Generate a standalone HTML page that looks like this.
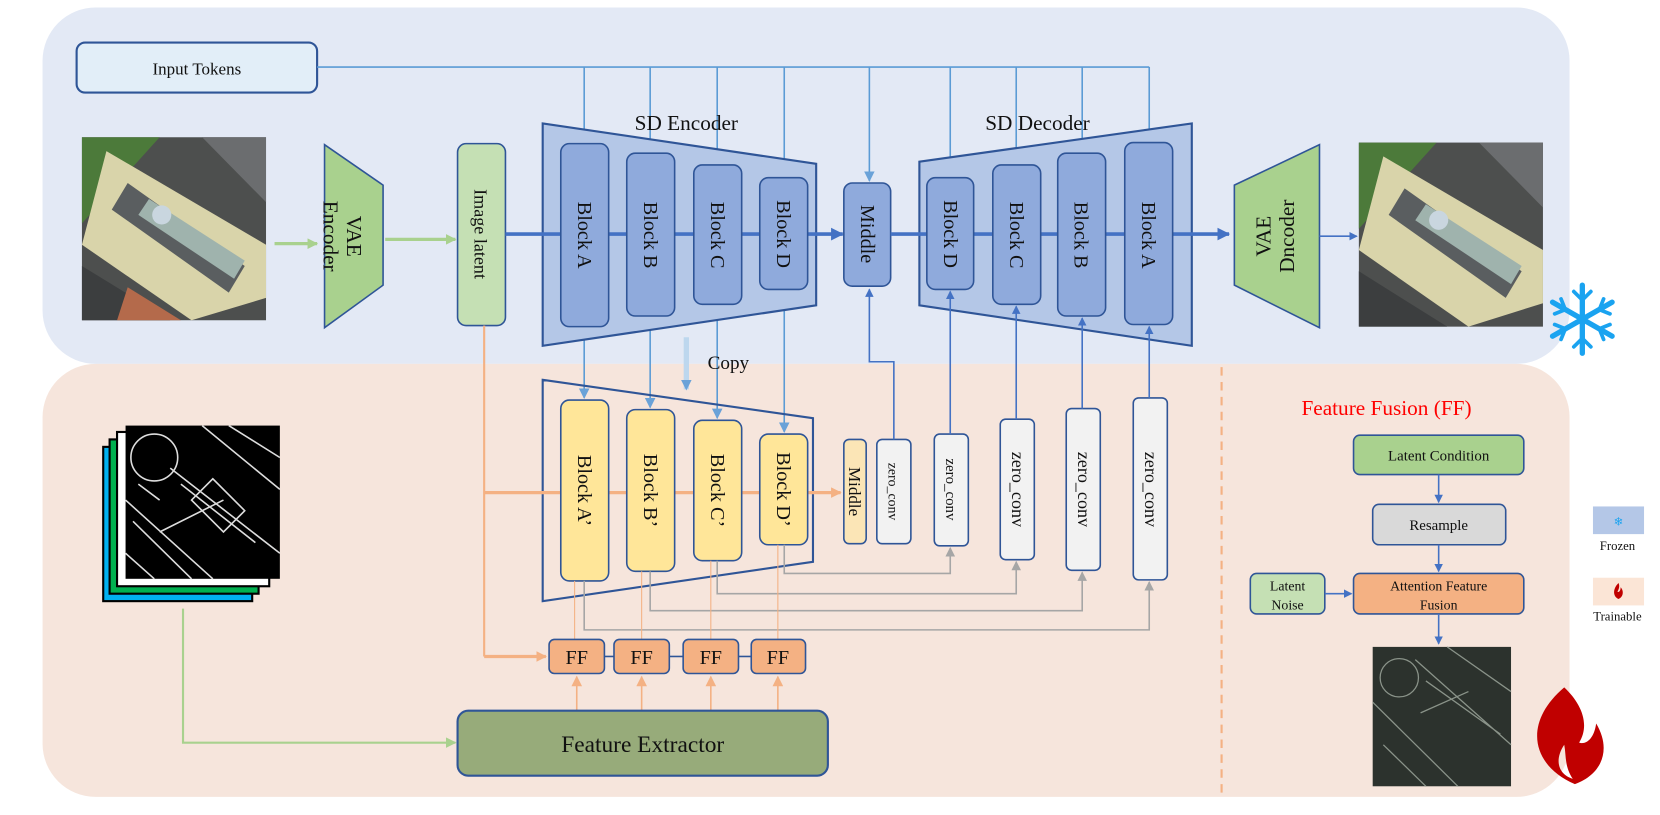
<!DOCTYPE html>
<html><head><meta charset="utf-8"><style>
html,body{margin:0;padding:0;background:#fff;}
svg{display:block;}
text{font-family:"Liberation Serif",serif;fill:#111;}
</style></head><body>
<svg width="1660" height="815" viewBox="0 0 1560 766" preserveAspectRatio="none" xmlns="http://www.w3.org/2000/svg">
<defs>
<marker id="ab" markerWidth="8" markerHeight="8" refX="7" refY="4" orient="auto" markerUnits="userSpaceOnUse"><path d="M0,0 L8,4 L0,8z" fill="#4472c4"/></marker>
<marker id="alb" markerWidth="10" markerHeight="10" refX="9" refY="5" orient="auto" markerUnits="userSpaceOnUse"><path d="M0,0 L10,5 L0,10z" fill="#6aa2d8"/></marker>
<marker id="ag" markerWidth="10" markerHeight="10" refX="9" refY="5" orient="auto" markerUnits="userSpaceOnUse"><path d="M0,0 L10,5 L0,10z" fill="#a9d18e"/></marker>
<marker id="ao" markerWidth="10" markerHeight="10" refX="9" refY="5" orient="auto" markerUnits="userSpaceOnUse"><path d="M0,0 L10,5 L0,10z" fill="#f4b183"/></marker>
<marker id="agr" markerWidth="9" markerHeight="9" refX="8" refY="4.5" orient="auto" markerUnits="userSpaceOnUse"><path d="M0,0 L9,4.5 L0,9z" fill="#a6a6a6"/></marker>
<marker id="abig" markerWidth="12" markerHeight="12" refX="11" refY="6" orient="auto" markerUnits="userSpaceOnUse"><path d="M0,0 L12,6 L0,12z" fill="#4472c4"/></marker>
</defs>
<!-- panels -->
<rect x="40" y="7" width="1435" height="335" rx="50" fill="#e3e9f5"/>
<rect x="40" y="342" width="1435" height="407" rx="50" fill="#f6e5dc"/>
<line x1="1148" y1="345" x2="1148" y2="750" stroke="#f4b183" stroke-width="2" stroke-dasharray="8,6"/>

<!-- input tokens -->
<rect x="72" y="40" width="226" height="47" rx="8" fill="#e2eef8" stroke="#2f5597" stroke-width="2"/>
<text x="185" y="70" font-size="16" text-anchor="middle">Input Tokens</text>
<g stroke="#5b9bd5" stroke-width="1.5" fill="none">
<path d="M298,63 H1080"/>
<path d="M549,63 V374" marker-end="url(#alb)"/>
<path d="M611,63 V383" marker-end="url(#alb)"/>
<path d="M674,63 V393" marker-end="url(#alb)"/>
<path d="M737,63 V406" marker-end="url(#alb)"/>
<path d="M817,63 V170" marker-end="url(#alb)"/>
<path d="M893,63 V165" marker-end="url(#alb)"/>
<path d="M955,63 V153" marker-end="url(#alb)"/>
<path d="M1017,63 V142" marker-end="url(#alb)"/>
<path d="M1080,63 V132" marker-end="url(#alb)"/>
</g>

<!-- left photo -->
<g>
<rect x="77" y="129" width="173" height="172" fill="#4d4f4e"/>
<polygon points="77,129 150,129 77,210" fill="#4c7a3a"/>
<polygon points="100,142 250,230 250,280 180,301 77,230" fill="#d9d4aa"/>
<polygon points="120,172 230,250 215,275 105,197" fill="#5a5e60"/>
<polygon points="140,187 230,245 220,262 130,202" fill="#9fb3ad"/>
<circle cx="152" cy="202" r="9" fill="#c9d6df"/>
<polygon points="77,250 160,301 77,301" fill="#3c3e3f"/>
<polygon points="120,270 170,301 110,301" fill="#b46a4b"/>
<polygon points="190,129 250,129 250,190" fill="#6b6d6f"/>
</g>
<line x1="258" y1="229" x2="298" y2="229" stroke="#a9d18e" stroke-width="3" marker-end="url(#ag)"/>
<polygon points="305,136 360,174 360,268 305,308" fill="#a9d18e" stroke="#2f5597" stroke-width="1.5"/>
<text transform="translate(324,222) rotate(90)" font-size="20" text-anchor="middle"><tspan x="0" dy="-2">VAE</tspan><tspan x="0" dy="22">Encoder</tspan></text>
<line x1="362" y1="225" x2="428" y2="225" stroke="#a9d18e" stroke-width="3" marker-end="url(#ag)"/>
<rect x="430" y="135" width="45" height="171" rx="8" fill="#c5e0b4" stroke="#2f5597" stroke-width="1.5"/>
<text transform="translate(446,220) rotate(90)" font-size="17" text-anchor="middle">Image latent</text>

<!-- SD encoder -->
<polygon points="510,116 767,154 767,287 510,325" fill="#b4c7e7" stroke="#2f5597" stroke-width="2"/>
<text x="645" y="122" font-size="20" text-anchor="middle">SD Encoder</text>
<line x1="475" y1="220" x2="792" y2="220" stroke="#4472c4" stroke-width="3.5" marker-end="url(#abig)"/>
<g fill="#8faadc" stroke="#2f5597" stroke-width="1.5">
<rect x="527" y="135" width="45" height="172" rx="8"/>
<rect x="589" y="144" width="45" height="153" rx="8"/>
<rect x="652" y="155" width="45" height="131" rx="8"/>
<rect x="714" y="167" width="45" height="105" rx="8"/>
<rect x="793" y="172" width="44" height="97" rx="8"/>
</g>
<g font-size="19" text-anchor="middle">
<text transform="translate(543,221) rotate(90)">Block A</text>
<text transform="translate(605,221) rotate(90)">Block B</text>
<text transform="translate(668,221) rotate(90)">Block C</text>
<text transform="translate(730,220) rotate(90)">Block D</text>
<text transform="translate(809,220) rotate(90)">Middle</text>
</g>
<!-- SD decoder -->
<polygon points="864,152 1120,116 1120,325 864,287" fill="#b4c7e7" stroke="#2f5597" stroke-width="2"/>
<text x="975" y="122" font-size="20" text-anchor="middle">SD Decoder</text>
<line x1="837" y1="220" x2="1155" y2="220" stroke="#4472c4" stroke-width="3.5" marker-end="url(#abig)"/>
<g fill="#8faadc" stroke="#2f5597" stroke-width="1.5">
<rect x="871" y="167" width="44" height="105" rx="8"/>
<rect x="933" y="155" width="45" height="131" rx="8"/>
<rect x="994" y="144" width="45" height="153" rx="8"/>
<rect x="1057" y="134" width="45" height="171" rx="8"/>
</g>
<g font-size="19" text-anchor="middle">
<text transform="translate(887,220) rotate(90)">Block D</text>
<text transform="translate(949,221) rotate(90)">Block C</text>
<text transform="translate(1010,221) rotate(90)">Block B</text>
<text transform="translate(1073,221) rotate(90)">Block A</text>
</g>
<polygon points="1160,174 1240,136 1240,308 1160,268" fill="#a9d18e" stroke="#2f5597" stroke-width="1.5"/>
<text transform="translate(1196,222) rotate(-90)" font-size="20" text-anchor="middle"><tspan x="0" dy="-2">VAE</tspan><tspan x="0" dy="22">Dncoder</tspan></text>
<line x1="1240" y1="222" x2="1275" y2="222" stroke="#4472c4" stroke-width="1.5" marker-end="url(#ab)"/>
<!-- right photo -->
<g>
<rect x="1277" y="134" width="173" height="173" fill="#4d4f4e"/>
<polygon points="1277,134 1350,134 1277,215" fill="#4c7a3a"/>
<polygon points="1300,147 1450,235 1450,285 1380,307 1277,235" fill="#d9d4aa"/>
<polygon points="1320,177 1430,255 1415,280 1305,202" fill="#5a5e60"/>
<polygon points="1340,192 1430,250 1420,267 1330,207" fill="#9fb3ad"/>
<circle cx="1352" cy="207" r="9" fill="#c9d6df"/>
<polygon points="1277,255 1360,307 1277,307" fill="#3c3e3f"/>
<polygon points="1390,134 1450,134 1450,195" fill="#6b6d6f"/>
</g>
<!-- snowflake -->
<g stroke="#1aa3f0" stroke-width="5" stroke-linecap="round" fill="none" transform="translate(1487,300)">
<path d="M0,-32 V32 M-28,-16 L28,16 M-28,16 L28,-16"/>
<path d="M-8,-26 L0,-18 L8,-26 M-8,26 L0,18 L8,26 M-26,-5 L-16,-9 L-20,-19 M26,5 L16,9 L20,19 M-26,5 L-16,9 L-20,19 M26,-5 L16,-9 L20,-19" stroke-width="3.5"/>
</g>

<!-- copy -->
<line x1="645" y1="317" x2="645" y2="366" stroke="#bdd7ee" stroke-width="5" marker-end="url(#alb)"/>
<text x="665" y="347" font-size="18">Copy</text>

<!-- controlnet -->
<line x1="455" y1="306" x2="455" y2="617" stroke="#f4b183" stroke-width="2"/>
<line x1="455" y1="617" x2="513" y2="617" stroke="#f4b183" stroke-width="3" marker-end="url(#ao)"/>
<polygon points="510,357 764,393 764,528 510,565" fill="none" stroke="#2f5597" stroke-width="2"/>
<line x1="455" y1="463" x2="790" y2="463" stroke="#f4b183" stroke-width="3" marker-end="url(#ao)"/>
<g fill="#ffe699" stroke="#2f5597" stroke-width="1.5">
<rect x="527" y="376" width="45" height="170" rx="8"/>
<rect x="589" y="385" width="45" height="152" rx="8"/>
<rect x="652" y="395" width="45" height="132" rx="8"/>
<rect x="714" y="408" width="45" height="104" rx="8"/>
</g>
<g font-size="19" text-anchor="middle">
<text transform="translate(543,461) rotate(90)">Block A’</text>
<text transform="translate(605,461) rotate(90)">Block B’</text>
<text transform="translate(668,461) rotate(90)">Block C’</text>
<text transform="translate(730,460) rotate(90)">Block D’</text>
</g>
<rect x="793" y="413" width="21" height="98" rx="5" fill="#fbe5b6" stroke="#2f5597" stroke-width="1.5"/>
<text transform="translate(798,462) rotate(90)" font-size="16" text-anchor="middle">Middle</text>
<g fill="#f2f2f2" stroke="#2f5597" stroke-width="1.5">
<rect x="824" y="413" width="32" height="98" rx="5"/>
<rect x="878" y="408" width="32" height="105" rx="5"/>
<rect x="940" y="394" width="32" height="132" rx="5"/>
<rect x="1002" y="384" width="32" height="152" rx="5"/>
<rect x="1065" y="374" width="32" height="171" rx="5"/>
</g>
<g text-anchor="middle">
<text transform="translate(835,462) rotate(90)" font-size="13">zero_conv</text>
<text transform="translate(889,460) rotate(90)" font-size="14">zero_conv</text>
<text transform="translate(951,460) rotate(90)" font-size="17">zero_conv</text>
<text transform="translate(1013,460) rotate(90)" font-size="17">zero_conv</text>
<text transform="translate(1076,460) rotate(90)" font-size="17">zero_conv</text>
</g>
<g stroke="#4472c4" stroke-width="1.5" fill="none">
<path d="M840,413 V340 H817 V272" marker-end="url(#ab)"/>
<path d="M893,408 V274" marker-end="url(#ab)"/>
<path d="M955,394 V288" marker-end="url(#ab)"/>
<path d="M1017,384 V299" marker-end="url(#ab)"/>
<path d="M1080,374 V307" marker-end="url(#ab)"/>
</g>
<g stroke="#a6a6a6" stroke-width="1.5" fill="none">
<path d="M737,512 V539 H893 V515" marker-end="url(#agr)"/>
<path d="M674,527 V558 H955 V528" marker-end="url(#agr)"/>
<path d="M611,537 V574 H1017 V538" marker-end="url(#agr)"/>
<path d="M549,546 V592 H1080 V547" marker-end="url(#agr)"/>
</g>
<!-- FF -->
<g stroke="#f4b183" stroke-width="1">
<line x1="540" y1="546" x2="540" y2="601"/><line x1="603" y1="537" x2="603" y2="601"/>
<line x1="668" y1="527" x2="668" y2="601"/><line x1="731" y1="512" x2="731" y2="601"/>
</g>
<line x1="568" y1="617" x2="577" y2="617" stroke="#2f5597" stroke-width="1.5"/>
<line x1="629" y1="617" x2="642" y2="617" stroke="#2f5597" stroke-width="1.5"/>
<line x1="694" y1="617" x2="706" y2="617" stroke="#2f5597" stroke-width="1.5"/>
<g fill="#f4b183" stroke="#2f5597" stroke-width="1.5">
<rect x="516" y="601" width="52" height="32" rx="5"/>
<rect x="577" y="601" width="52" height="32" rx="5"/>
<rect x="642" y="601" width="52" height="32" rx="5"/>
<rect x="706" y="601" width="51" height="32" rx="5"/>
</g>
<g font-size="19" text-anchor="middle">
<text x="542" y="624">FF</text><text x="603" y="624">FF</text><text x="668" y="624">FF</text><text x="731" y="624">FF</text>
</g>
<g stroke="#f4b183" stroke-width="1.5">
<line x1="542" y1="668" x2="542" y2="636" marker-end="url(#ao)"/>
<line x1="603" y1="668" x2="603" y2="636" marker-end="url(#ao)"/>
<line x1="668" y1="668" x2="668" y2="636" marker-end="url(#ao)"/>
<line x1="731" y1="668" x2="731" y2="636" marker-end="url(#ao)"/>
</g>
<rect x="430" y="668" width="348" height="61" rx="10" fill="#97ab7a" stroke="#2f5597" stroke-width="2"/>
<text x="604" y="707" font-size="22" text-anchor="middle">Feature Extractor</text>

<!-- edge stack -->
<rect x="97" y="420" width="140" height="145" fill="#00b0f0" stroke="#000" stroke-width="2"/>
<rect x="103" y="413" width="140" height="145" fill="#00b050" stroke="#000" stroke-width="2"/>
<rect x="110" y="406" width="143" height="145" fill="#fff" stroke="#000" stroke-width="2"/>
<rect x="118" y="400" width="145" height="144" fill="#000"/>
<g stroke="#ddd" stroke-width="1.5" fill="none">
<circle cx="145" cy="430" r="22"/>
<path d="M118,470 L200,544 M125,490 L180,544 M160,440 L263,520 M170,455 L240,510 M190,400 L263,460 M215,400 L263,430 M150,500 L210,470 M118,520 L145,544"/>
<path d="M180,470 L200,450 L230,480 L210,500z M130,455 L150,470"/>
</g>
<path d="M172,572 V698 H428" stroke="#a9d18e" stroke-width="2" fill="none" marker-end="url(#ag)"/>

<!-- feature fusion -->
<text x="1303" y="390" font-size="20" text-anchor="middle" style="fill:#ff0000">Feature Fusion (FF)</text>
<rect x="1272" y="409" width="160" height="37" rx="6" fill="#a9d18e" stroke="#2f5597" stroke-width="1.5"/>
<text x="1352" y="433" font-size="14" text-anchor="middle">Latent Condition</text>
<line x1="1352" y1="446" x2="1352" y2="472" stroke="#4472c4" stroke-width="1.5" marker-end="url(#ab)"/>
<rect x="1290" y="474" width="125" height="38" rx="6" fill="#d9d9d9" stroke="#2f5597" stroke-width="1.5"/>
<text x="1352" y="498" font-size="14" text-anchor="middle">Resample</text>
<line x1="1352" y1="512" x2="1352" y2="537" stroke="#4472c4" stroke-width="1.5" marker-end="url(#ab)"/>
<rect x="1175" y="539" width="70" height="38" rx="6" fill="#c5e0b4" stroke="#2f5597" stroke-width="1.5"/>
<text x="1210" y="555" font-size="13" text-anchor="middle">Latent</text>
<text x="1210" y="573" font-size="13" text-anchor="middle">Noise</text>
<line x1="1245" y1="558" x2="1270" y2="558" stroke="#4472c4" stroke-width="1.5" marker-end="url(#ab)"/>
<rect x="1272" y="539" width="160" height="38" rx="6" fill="#f4b183" stroke="#2f5597" stroke-width="1.5"/>
<text x="1352" y="555" font-size="13" text-anchor="middle">Attention Feature</text>
<text x="1352" y="573" font-size="13" text-anchor="middle">Fusion</text>
<line x1="1352" y1="577" x2="1352" y2="605" stroke="#4472c4" stroke-width="1.5" marker-end="url(#ab)"/>
<rect x="1290" y="608" width="130" height="131" fill="#2c322d"/>
<g stroke="#8a9389" stroke-width="1.2" fill="none">
<circle cx="1315" cy="637" r="18"/>
<path d="M1290,660 L1370,739 M1300,700 L1340,739 M1330,620 L1420,700 M1340,640 L1410,690 M1360,608 L1420,650 M1335,670 L1380,650"/>
</g>
<!-- flame -->
<path d="M1470,646 C1430,680 1440,720 1480,737 C1505,728 1515,705 1500,680 C1498,695 1490,700 1484,698 C1495,680 1485,660 1470,646 Z M1470,700 C1460,715 1465,728 1478,732 C1470,720 1472,710 1470,700Z" fill="#c00000" fill-rule="evenodd"/>
<!-- legend -->
<rect x="1497" y="476" width="48" height="26" fill="#b4c7e7"/>
<text x="1521" y="494" font-size="11" text-anchor="middle" style="fill:#1aa3f0">❄</text>
<text x="1520" y="517" font-size="12" text-anchor="middle">Frozen</text>
<rect x="1497" y="543" width="48" height="26" fill="#fbe5d6"/>
<path d="M1521,548 C1515,554 1516,561 1521,563 C1526,561 1526,555 1523,552 C1523,556 1521,557 1520,556 C1522,553 1522,550 1521,548Z" fill="#c00000"/>
<text x="1520" y="583" font-size="12" text-anchor="middle">Trainable</text>
</svg>
</body></html>
